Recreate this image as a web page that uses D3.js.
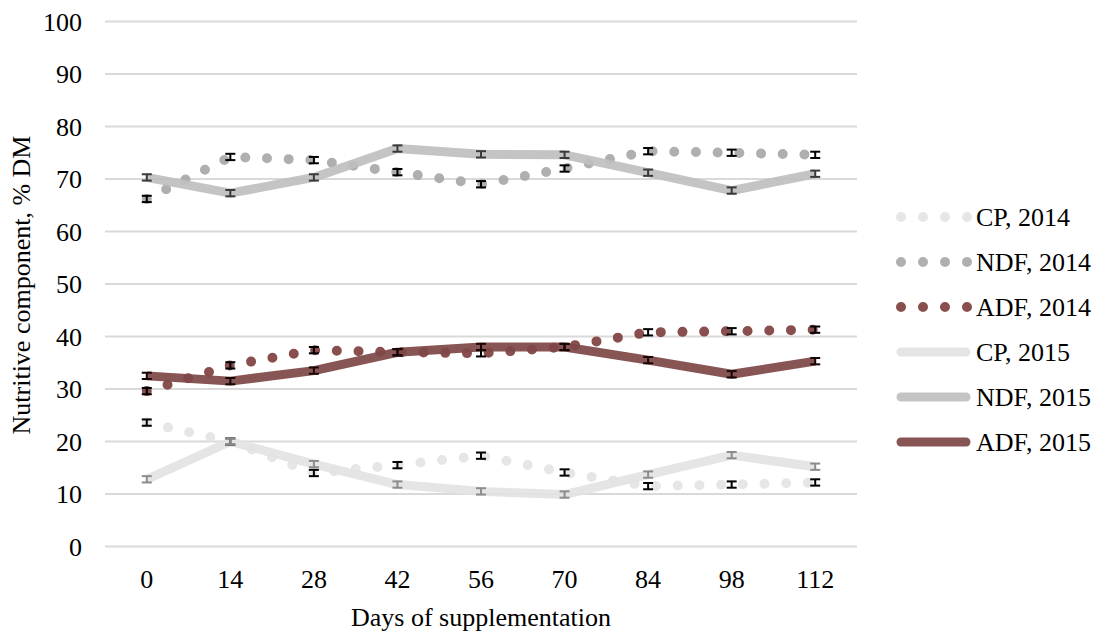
<!DOCTYPE html>
<html>
<head>
<meta charset="utf-8">
<script src="https://cdn.jsdelivr.net/npm/d3@7"></script>
<style>
  body { margin: 0; background: #fff; }
  svg text { font-family: "Liberation Serif", "Times New Roman", serif; fill: #000; }
</style>
</head>
<body>
<svg id="chart" width="1102" height="633"></svg>
<script>
// days of supplementation (category axis)
const days = [0, 14, 28, 42, 56, 70, 84, 98, 112];
const yTicks = [0, 10, 20, 30, 40, 50, 60, 70, 80, 90, 100];

// 2014 values, % DM
const cp2014 = [23.6, 20.0, 14.0, 15.5, 17.3, 14.1, 11.5, 11.8, 12.2];
const ndf2014 = [66.2, 74.2, 73.6, 71.3, 69.0, 72.0, 75.3, 75.0, 74.6];
const adf2014 = [29.6, 34.5, 37.4, 37.0, 36.8, 38.0, 40.8, 41.0, 41.3];

// 2015 values, % DM
const cp2015 = [12.8, 20.0, 15.7, 11.8, 10.5, 9.9, 13.7, 17.4, 15.2];
const ndf2015 = [70.3, 67.3, 70.3, 75.8, 74.7, 74.6, 71.2, 67.8, 71.0];
const adf2015 = [32.5, 31.5, 33.5, 37.0, 38.0, 38.0, 35.5, 32.8, 35.3];

// standard errors (small)
const errSmall = [0.6, 0.6, 0.6, 0.6, 0.6, 0.6, 0.6, 0.6, 0.6];

const seriesList = [
  { name: 'CP, 2014', values: cp2014, err: errSmall, color: '#e3e3e3', errColor: '#000', dotted: true },
  { name: 'NDF, 2014', values: ndf2014, err: errSmall, color: '#a6a6a6', errColor: '#000', dotted: true },
  { name: 'ADF, 2014', values: adf2014, err: errSmall, color: '#7c3c3c', errColor: '#000', dotted: true },
  { name: 'CP, 2015', values: cp2015, err: errSmall, color: '#e3e3e3', errColor: '#8c8c8c', dotted: false },
  { name: 'NDF, 2015', values: ndf2015, err: errSmall, color: '#bfbfbf', errColor: '#3a3a3a', dotted: false },
  { name: 'ADF, 2015', values: adf2015, err: errSmall, color: '#7e4747', errColor: '#1a0505', dotted: false },
];

const svg = d3.select('#chart');
const plot = { left: 105, right: 857, top: 21.5, bottom: 546.5 };

const x = d3.scalePoint()
  .domain(days)
  .range([plot.left, plot.right])
  .padding(0.5);

const y = d3.scaleLinear()
  .domain([0, 100])
  .range([plot.bottom, plot.top]);

// gridlines
svg.append('g')
  .selectAll('line')
  .data(yTicks)
  .join('line')
  .attr('x1', plot.left)
  .attr('x2', plot.right)
  .attr('y1', d => y(d))
  .attr('y2', d => y(d))
  .attr('stroke', '#d9d9d9')
  .attr('stroke-width', 2);

// y tick labels
svg.append('g')
  .selectAll('text')
  .data(yTicks)
  .join('text')
  .attr('x', 82)
  .attr('y', d => y(d))
  .attr('dy', '0.35em')
  .attr('text-anchor', 'end')
  .attr('font-size', 26)
  .text(d => d);

// x tick labels
svg.append('g')
  .selectAll('text')
  .data(days)
  .join('text')
  .attr('x', d => x(d))
  .attr('y', 588)
  .attr('text-anchor', 'middle')
  .attr('font-size', 26)
  .text(d => d);

// axis titles
svg.append('text')
  .attr('x', x(56))
  .attr('y', 626)
  .attr('text-anchor', 'middle')
  .attr('font-size', 26)
  .text('Days of supplementation');

svg.append('text')
  .attr('transform', 'translate(30,285) rotate(-90)')
  .attr('text-anchor', 'middle')
  .attr('font-size', 26)
  .text('Nutritive component, % DM');

const line = d3.line()
  .x((d, i) => x(days[i]))
  .y(d => y(d));

function styleSeries(sel, s) {
  sel.attr('fill', 'none')
    .attr('stroke', s.color)
    .attr('stroke-width', s.dotted ? 10 : 9)
    .attr('stroke-linejoin', 'round')
    .attr('stroke-linecap', s.dotted ? 'round' : 'butt')
    .attr('stroke-dasharray', s.dotted ? '0 21.7' : null)
    .attr('opacity', s.dotted ? 0.9 : 0.92);
}

// lines
seriesList.forEach((s) => {
  svg.append('path')
    .datum(s.values)
    .attr('d', line)
    .call(styleSeries, s);
});

// error bars
seriesList.forEach((s) => {
  const g = svg.append('g')
    .attr('stroke', s.errColor)
    .attr('stroke-width', 2);
  s.values.forEach((v, i) => {
    const cx = x(days[i]);
    const y0 = y(v - s.err[i]);
    const y1 = y(v + s.err[i]);
    g.append('line').attr('x1', cx).attr('x2', cx).attr('y1', y0).attr('y2', y1);
    g.append('line').attr('x1', cx - 5).attr('x2', cx + 5).attr('y1', y0).attr('y2', y0);
    g.append('line').attr('x1', cx - 5).attr('x2', cx + 5).attr('y1', y1).attr('y2', y1);
  });
});

// legend
const legend = svg.append('g');
seriesList.forEach((s, i) => {
  const ly = 217 + i * 45;
  legend.append('path')
    .attr('d', s.dotted ? `M901,${ly}H968` : `M901,${ly}H966`)
    .call(styleSeries, s)
    .attr('stroke-linecap', 'round')
    .attr('stroke-dasharray', s.dotted ? '0 22' : null);
  legend.append('text')
    .attr('x', 976)
    .attr('y', ly)
    .attr('dy', '0.35em')
    .attr('font-size', 26)
    .text(s.name);
});
</script>
</body>
</html>
